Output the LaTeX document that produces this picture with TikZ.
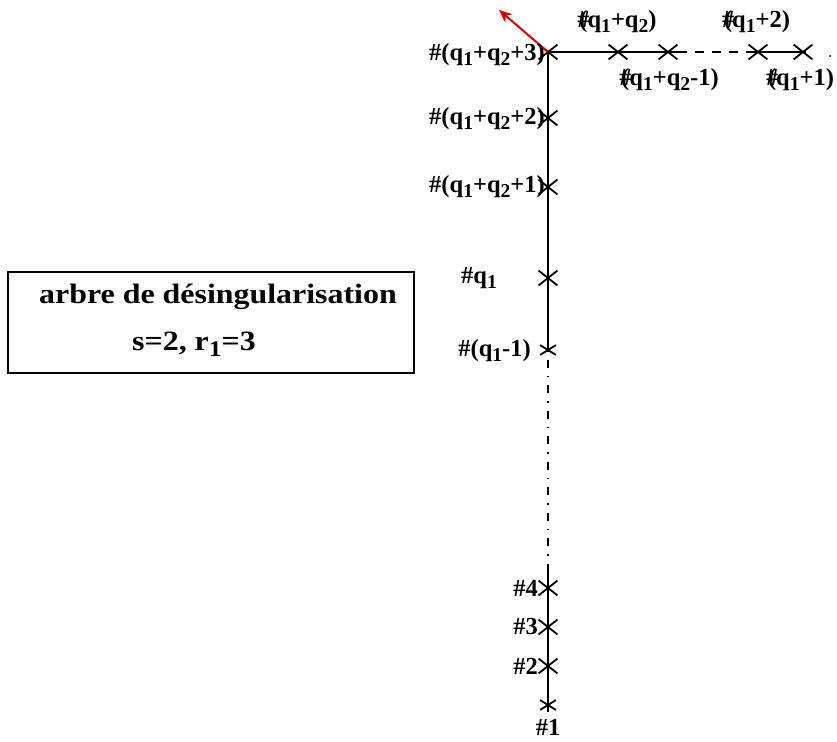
\documentclass[tikz,border=0pt]{standalone}
\usepackage{fontspec}
\setmainfont{Liberation Serif}
\usetikzlibrary{arrows.meta,shapes.misc}
\newcommand\sbs[1]{\raisebox{-0.45ex}{\scalebox{0.8}{#1}}}
\newcommand\hp{\#\kern-0.42em(}
\begin{document}
\begin{tikzpicture}[x=1pt,y=-1pt,
  lbl/.style={font=\fontsize{24.5}{27}\selectfont\bfseries, inner sep=0pt},
  xmark/.style={cross out, draw, line width=1.8pt, minimum width=17pt, minimum height=13pt, inner sep=0pt},
  smallx/.style={cross out, draw, line width=1.8pt, minimum width=14pt, minimum height=8pt, inner sep=0pt},
  edge/.style={line width=1.7pt},
  dashedge/.style={line width=1.7pt, dash pattern=on 9pt off 8pt},
  dotdash/.style={line width=1.6pt, dash pattern=on 1.5pt off 8pt on 8pt off 8pt}]
\useasboundingbox (0,0) rectangle (837,741);
% vertical crosses
\node[xmark] (h0) at (548,52) {};
\node[xmark] (v1) at (548,118) {};
\node[xmark] (v2) at (548,187) {};
\node[xmark] (v3) at (548,278) {};
\node[smallx] (v4) at (548,350) {};
\coordinate (d1) at (548,568);
\node[xmark] (w4) at (548,588) {};
\node[xmark] (w3) at (548,627) {};
\node[xmark] (w2) at (548,666) {};
\node[smallx] (w1) at (548,705) {};
\coordinate (bot) at (548,712);
% horizontal crosses
\node[xmark] (h1) at (618,52) {};
\node[xmark] (h2) at (668,52) {};
\coordinate (hd) at (678,52);
\coordinate (he) at (748,52);
\node[xmark] (h3) at (758,52) {};
\node[xmark] (h4) at (803,52) {};
\coordinate (hend) at (806,52);
\fill (830,56) circle (1pt);
% lines
\draw[edge] (h0.center) -- (v4.center);
\draw[dotdash] (v4.center) -- (d1);
\draw[edge] (d1) -- (bot);
\draw[edge] (h0.center) -- (hd);
\draw[dashedge] (hd) -- (he);
\draw[edge] (he) -- (hend);
% red arrow
\coordinate (arr) at (499,10);
\draw[red!85!black, line width=2pt, -{Stealth[length=13pt,width=11pt]}] (h0.center) -- (arr);
% labels
\node[lbl, anchor=east] (l0) at (545,55) {\#(q\sbs{1}+q\sbs{2}+3)};
\node[lbl, anchor=east] (l1) at (545,119) {\#(q\sbs{1}+q\sbs{2}+2)};
\node[lbl, anchor=east] (l2) at (545,187) {\#(q\sbs{1}+q\sbs{2}+1)};
\node[lbl] (l3) at (479,278) {\#q\sbs{1}};
\node[lbl, anchor=east] (l4) at (531,351) {\#(q\sbs{1}-1)};
\node[lbl, anchor=east] (l5) at (538,588) {\#4};
\node[lbl, anchor=east] (l6) at (538,627) {\#3};
\node[lbl, anchor=east] (l7) at (538,666) {\#2};
\node[lbl] (l8) at (548,727) {\#1};
\node[lbl] (l9) at (617,22) {\hp q\sbs{1}+q\sbs{2})};
\node[lbl] (l10) at (756,22) {\hp q\sbs{1}+2)};
\node[lbl] (l11) at (669,80) {\hp q\sbs{1}+q\sbs{2}-1)};
\node[lbl] (l12) at (800,80) {\hp q\sbs{1}+1)};
% box
\node[draw, line width=1.5pt, minimum width=406pt, minimum height=101pt, inner sep=0pt] (box) at (211,322.5) {};
\node[lbl, font=\fontsize{28}{30}\selectfont\bfseries, xscale=1.14] (t1) at (218,297) {arbre de désingularisation};
\node[lbl, font=\fontsize{28}{30}\selectfont\bfseries, xscale=1.14] (t2) at (194,344) {s=2, r\sbs{1}=3};
\end{tikzpicture}
\end{document}
